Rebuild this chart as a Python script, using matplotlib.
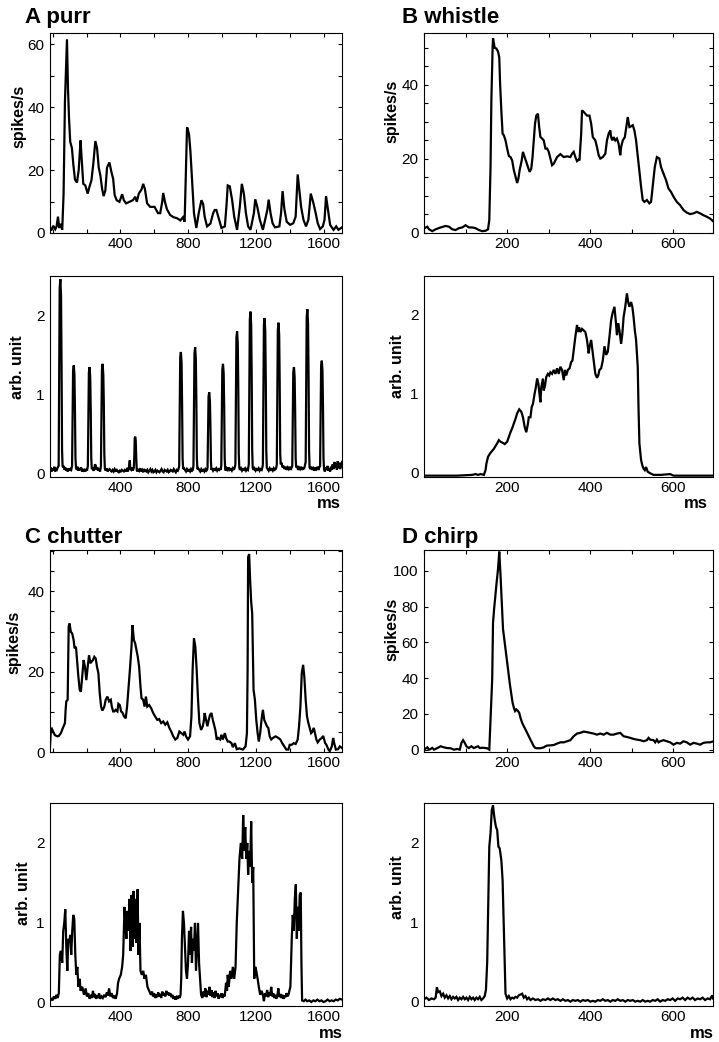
import matplotlib
matplotlib.use("Agg")
import matplotlib.pyplot as plt
from matplotlib.ticker import FixedLocator, MultipleLocator, NullLocator

plt.rcParams['font.family'] = ['Liberation Sans', 'DejaVu Sans']

# ---- data: (ms, value) ----
purr_rate = [(-15, 1.0), (-6, 1.0), (4, 2.3), (16, 1.2), (24, 2.1), (32, 5.2), (39, 1.6), (47, 2.9), (57, 1.0),
             (65, 12.5), (73, 41.7), (85, 61.5), (91, 45.8), (97, 36.5), (104, 29.0), (114, 27.0), (122, 22.0),
             (132, 17.0), (144, 16.0), (154, 20.0), (160, 25.0), (165, 29.4), (171, 24.0), (181, 15.6), (193, 15.1),
             (207, 12.5), (217, 14.6), (229, 16.7), (240, 21.9), (252, 29.2), (262, 27.0), (272, 20.8), (282, 18.2),
             (292, 14.0), (301, 11.7), (311, 13.5), (321, 20.8), (335, 22.4), (347, 19.3), (357, 17.2), (366, 12.0),
             (378, 10.4), (394, 9.9), (410, 12.3), (420, 10.4), (433, 9.4), (453, 9.9), (473, 10.4), (487, 11.5),
             (496, 9.9), (508, 12.5), (524, 13.8), (534, 15.6), (544, 14.0), (557, 9.4), (575, 8.3), (601, 8.3),
             (621, 6.3), (634, 6.3), (646, 9.9), (652, 12.7), (662, 9.9), (674, 7.5), (693, 5.7), (713, 5.0),
             (733, 4.7), (753, 4.0), (768, 5.0), (778, 3.6), (792, 33.3), (794, 33.5), (804, 31.3), (812, 26.0),
             (823, 15.6), (833, 6.3), (847, 1.6), (861, 6.3), (877, 10.4), (887, 9.2), (896, 5.2), (910, 2.1),
             (930, 3.0), (946, 6.3), (955, 7.3), (965, 7.3), (981, 4.2), (995, 1.6), (1015, 2.1), (1024, 8.3),
             (1032, 15.1), (1044, 14.8), (1058, 10.4), (1070, 5.2), (1087, 1.0), (1103, 8.3), (1115, 15.6),
             (1127, 12.5), (1139, 6.3), (1152, 2.1), (1166, 1.0), (1186, 6.3), (1194, 10.7), (1206, 8.3),
             (1221, 4.2), (1239, 1.0), (1265, 7.3), (1273, 10.6), (1284, 6.3), (1296, 3.1), (1310, 1.8),
             (1336, 2.1), (1346, 6.3), (1355, 13.3), (1365, 7.8), (1379, 3.6), (1399, 2.6), (1418, 3.1),
             (1432, 5.2), (1444, 18.6), (1452, 14.6), (1464, 8.3), (1478, 4.2), (1493, 2.1), (1507, 4.2),
             (1521, 12.5), (1537, 9.4), (1550, 6.3), (1562, 3.1), (1576, 1.25), (1592, 2.1), (1602, 4.2),
             (1611, 11.7), (1625, 6.3), (1635, 2.6), (1655, 1.0), (1671, 2.1), (1684, 1.0), (1705, 1.8)]

purr_stim = [(-15, 0.05), (-10, 0.08), (-5, 0.03), (0, 0.07), (5, 0.04), (10, 0.09), (15, 0.03), (20, 0.06),
             (25, 0.05), (30, 0.08),
             (36, 0.10), (39, 1.2), (42, 2.35), (46, 2.46), (50, 2.25), (53, 1.4), (56, 0.3), (59, 0.1),
             (63, 0.08), (67, 0.10), (71, 0.05), (75, 0.08), (80, 0.04), (85, 0.06), (90, 0.03), (95, 0.07),
             (100, 0.04), (105, 0.06), (110, 0.05),
             (115, 0.1), (118, 0.7), (121, 1.3), (125, 1.37), (129, 1.25), (132, 0.8), (135, 0.2), (138, 0.08),
             (143, 0.05), (148, 0.09), (153, 0.04), (158, 0.07), (163, 0.05), (168, 0.08), (173, 0.03), (178, 0.06),
             (183, 0.04), (188, 0.05), (193, 0.03), (198, 0.06), (203, 0.04),
             (208, 0.1), (211, 0.7), (214, 1.28), (218, 1.35), (222, 1.22), (225, 0.8), (228, 0.2), (231, 0.07),
             (236, 0.07), (241, 0.04), (246, 0.06), (250, 0.12), (255, 0.10), (260, 0.05), (265, 0.08), (270, 0.04),
             (275, 0.06), (280, 0.03),
             (285, 0.1), (288, 0.7), (291, 1.32), (295, 1.39), (299, 1.25), (302, 0.9), (305, 0.25), (308, 0.07),
             (313, 0.04), (318, 0.07), (324, 0.03), (330, 0.05), (336, 0.06), (342, 0.04), (348, 0.03), (354, 0.05),
             (360, 0.03), (366, 0.06), (372, 0.04), (378, 0.05), (384, 0.03), (390, 0.02), (396, 0.04), (402, 0.03),
             (408, 0.05), (414, 0.04), (420, 0.03), (426, 0.05), (432, 0.04), (438, 0.06), (444, 0.03), (450, 0.08),
             (455, 0.17), (458, 0.06), (463, 0.05), (468, 0.08), (473, 0.04),
             (479, 0.08), (482, 0.25), (484, 0.45), (487, 0.47), (490, 0.42), (493, 0.2), (496, 0.05),
             (500, 0.03), (504, 0.06), (510, 0.04), (516, 0.07), (522, 0.03), (528, 0.05), (534, 0.02), (540, 0.06),
             (546, 0.04), (552, 0.03), (558, 0.05), (564, 0.02), (570, 0.04), (576, 0.06), (582, 0.03), (588, 0.05),
             (594, 0.02), (600, 0.03), (606, 0.05), (612, 0.02), (618, 0.04), (624, 0.03), (630, 0.02), (636, 0.04),
             (642, 0.06), (648, 0.03), (654, 0.02), (660, 0.05), (666, 0.04), (672, 0.03), (678, 0.05), (684, 0.02),
             (690, 0.03), (696, 0.05), (702, 0.04), (708, 0.03), (714, 0.06), (720, 0.04), (726, 0.02), (732, 0.05),
             (738, 0.04), (742, 0.06),
             (746, 0.1), (749, 0.8), (752, 1.47), (756, 1.54), (760, 1.4), (763, 0.9), (766, 0.2), (769, 0.06),
             (774, 0.07), (780, 0.05), (786, 0.03), (792, 0.06), (798, 0.04), (804, 0.05), (810, 0.03), (816, 0.06),
             (822, 0.04), (826, 0.05),
             (830, 0.1), (833, 0.8), (836, 1.52), (840, 1.6), (844, 1.45), (847, 0.95), (850, 0.2), (853, 0.06),
             (858, 0.07), (864, 0.05), (870, 0.03), (876, 0.06), (882, 0.04), (888, 0.05), (894, 0.03), (900, 0.06),
             (906, 0.04), (910, 0.05),
             (913, 0.08), (916, 0.5), (919, 0.98), (923, 1.03), (927, 0.92), (930, 0.6), (933, 0.15), (936, 0.05),
             (940, 0.07), (946, 0.04), (952, 0.06), (958, 0.05), (964, 0.07), (970, 0.04), (976, 0.06), (982, 0.05),
             (986, 0.07), (990, 0.05),
             (994, 0.1), (997, 0.7), (1000, 1.32), (1004, 1.39), (1008, 1.27), (1011, 0.85), (1014, 0.2), (1017, 0.06),
             (1020, 0.04), (1026, 0.07), (1032, 0.05), (1038, 0.08), (1044, 0.05), (1050, 0.06), (1056, 0.04),
             (1062, 0.07), (1068, 0.05), (1073, 0.08),
             (1077, 0.12), (1080, 0.9), (1083, 1.72), (1087, 1.8), (1091, 1.65), (1094, 1.1), (1097, 0.25),
             (1100, 0.08),
             (1104, 0.05), (1110, 0.07), (1116, 0.04), (1122, 0.06), (1128, 0.05), (1134, 0.07), (1140, 0.04),
             (1146, 0.06), (1151, 0.05),
             (1156, 0.12), (1159, 1.0), (1162, 1.95), (1166, 2.05), (1170, 1.88), (1173, 1.25), (1176, 0.3),
             (1179, 0.08),
             (1184, 0.05), (1190, 0.07), (1196, 0.04), (1202, 0.06), (1208, 0.05), (1214, 0.07), (1220, 0.04),
             (1226, 0.06), (1232, 0.05), (1236, 0.08),
             (1239, 0.12), (1242, 1.0), (1245, 1.88), (1249, 1.97), (1253, 1.8), (1256, 1.2), (1259, 0.3),
             (1262, 0.08),
             (1267, 0.06), (1273, 0.04), (1279, 0.07), (1285, 0.05), (1291, 0.06), (1297, 0.04), (1303, 0.07),
             (1309, 0.05), (1314, 0.06), (1318, 0.08),
             (1321, 0.12), (1324, 0.95), (1327, 1.82), (1331, 1.91), (1335, 1.75), (1338, 1.15), (1341, 0.25),
             (1344, 0.12),
             (1349, 0.14), (1355, 0.08), (1361, 0.10), (1367, 0.06), (1373, 0.09), (1379, 0.05), (1385, 0.08),
             (1391, 0.06), (1397, 0.09), (1403, 0.05), (1408, 0.08),
             (1412, 0.1), (1415, 0.7), (1418, 1.28), (1422, 1.35), (1426, 1.22), (1429, 0.8), (1432, 0.2),
             (1435, 0.08),
             (1440, 0.10), (1446, 0.05), (1452, 0.08), (1458, 0.06), (1464, 0.09), (1470, 0.05), (1476, 0.08),
             (1481, 0.06), (1486, 0.10),
             (1491, 0.15), (1494, 1.05), (1497, 1.98), (1501, 2.08), (1505, 1.9), (1508, 1.25), (1511, 0.3),
             (1514, 0.08),
             (1519, 0.06), (1525, 0.09), (1531, 0.05), (1537, 0.07), (1543, 0.04), (1549, 0.08), (1555, 0.06),
             (1561, 0.09), (1566, 0.05), (1571, 0.08),
             (1576, 0.1), (1579, 0.75), (1582, 1.36), (1586, 1.43), (1590, 1.3), (1593, 0.85), (1596, 0.2),
             (1599, 0.06),
             (1604, 0.03), (1610, 0.08), (1615, 0.05), (1620, 0.10), (1625, 0.04), (1630, 0.07), (1635, 0.03),
             (1640, 0.09), (1645, 0.05), (1650, 0.12), (1655, 0.06), (1660, 0.15), (1665, 0.08), (1670, 0.13),
             (1675, 0.05), (1680, 0.16), (1685, 0.07), (1690, 0.14), (1695, 0.06), (1705, 0.15)]

whistle_rate = [(0, 1.2), (4, 1.5), (8, 1.7), (12, 1.0), (20, 0.5), (28, 1.0), (40, 1.5), (52, 1.9), (60, 1.7),
                (68, 1.0), (76, 0.8), (84, 1.3), (92, 1.5), (100, 2.1), (108, 1.5), (116, 1.5), (124, 1.3),
                (132, 0.8), (140, 0.5), (148, 0.6), (154, 1.0), (157, 3.5), (160, 17.8), (162, 35.8), (165, 50.0),
                (166, 52.6), (170, 50.0), (174, 49.8), (178, 49.0), (181, 47.4), (183, 40.3), (186, 33.0),
                (189, 26.8), (192, 26.4), (196, 25.0), (200, 22.8), (204, 20.8), (208, 20.5), (212, 19.6),
                (216, 17.0), (220, 15.2), (224, 13.5), (227, 14.7), (230, 17.0), (235, 19.6), (238, 21.9),
                (242, 20.5), (246, 19.2), (250, 17.8), (254, 16.5), (258, 17.4), (261, 20.5), (264, 25.0),
                (267, 29.5), (270, 31.7), (274, 32.2), (277, 28.6), (280, 25.9), (284, 25.5), (288, 25.0),
                (292, 22.8), (296, 22.8), (300, 21.9), (304, 20.1), (308, 18.3), (312, 18.7), (316, 19.6),
                (320, 20.5), (328, 21.3), (336, 20.5), (344, 20.7), (352, 20.5), (356, 21.4), (360, 21.9),
                (364, 20.5), (368, 19.4), (372, 19.8), (374, 19.8), (378, 26.8), (380, 33.1), (384, 32.7),
                (388, 32.2), (392, 31.7), (398, 31.7), (402, 29.5), (406, 25.9), (412, 25.0), (416, 23.2),
                (420, 21.0), (424, 20.1), (430, 20.5), (436, 21.4), (440, 25.0), (444, 26.8), (448, 27.7),
                (450, 25.9), (453, 25.0), (456, 25.9), (460, 25.0), (464, 25.5), (468, 24.1), (472, 21.0),
                (474, 23.2), (478, 25.0), (483, 25.9), (486, 28.2), (490, 31.3), (494, 28.6), (498, 28.8),
                (502, 29.1), (506, 27.7), (510, 25.0), (516, 18.7), (522, 12.5), (526, 8.9), (530, 8.4),
                (536, 8.9), (542, 8.0), (546, 8.4), (550, 12.5), (555, 17.8), (560, 20.5), (566, 20.1),
                (570, 17.8), (576, 16.0), (582, 14.3), (588, 12.0), (594, 11.1), (600, 9.8), (608, 8.4),
                (616, 7.5), (624, 6.2), (632, 5.5), (640, 5.1), (648, 5.3), (656, 5.7), (664, 5.3), (672, 4.8),
                (680, 4.4), (688, 3.9), (695, 3.2)]

whistle_stim = [(0, -0.04), (40, -0.04), (80, -0.04), (116, -0.03), (124, -0.02), (130, -0.03), (136, -0.02),
                (144, -0.03), (148, 0.03), (150, 0.11), (154, 0.2), (160, 0.25), (168, 0.3), (176, 0.37),
                (180, 0.41), (184, 0.39), (188, 0.38), (194, 0.36), (200, 0.39), (204, 0.45), (208, 0.51),
                (212, 0.56), (216, 0.62), (220, 0.68), (224, 0.75), (229, 0.8), (234, 0.77), (238, 0.7),
                (242, 0.58), (246, 0.51), (250, 0.62), (252, 0.7), (256, 0.7), (259, 0.83), (262, 0.87),
                (266, 1.0), (269, 1.08), (272, 1.19), (275, 1.13), (278, 0.98), (280, 0.89), (282, 1.08),
                (286, 1.19), (288, 1.04), (291, 1.1), (294, 1.21), (298, 1.25), (301, 1.23), (304, 1.27),
                (308, 1.25), (312, 1.3), (316, 1.25), (320, 1.32), (324, 1.25), (328, 1.34), (332, 1.3),
                (336, 1.17), (339, 1.3), (342, 1.23), (346, 1.3), (350, 1.32), (354, 1.4), (357, 1.42),
                (360, 1.55), (364, 1.72), (368, 1.87), (370, 1.78), (373, 1.84), (376, 1.78), (380, 1.82),
                (384, 1.8), (388, 1.78), (392, 1.68), (396, 1.51), (398, 1.59), (402, 1.68), (405, 1.55),
                (408, 1.42), (412, 1.25), (416, 1.2), (419, 1.23), (422, 1.3), (426, 1.32), (430, 1.42),
                (434, 1.6), (438, 1.49), (442, 1.53), (446, 1.72), (450, 1.93), (453, 2.01), (458, 2.1),
                (461, 1.93), (464, 1.74), (467, 1.89), (470, 1.8), (474, 1.63), (477, 1.76), (480, 1.97),
                (484, 2.1), (488, 2.27), (491, 2.16), (494, 2.1), (498, 2.16), (501, 2.1), (504, 1.97),
                (507, 1.8), (510, 1.68), (514, 1.34), (516, 0.79), (518, 0.37), (522, 0.16), (525, 0.09),
                (528, 0.05), (531, 0.03), (534, 0.07), (538, 0.01), (544, -0.01), (552, -0.03), (570, -0.03),
                (592, -0.02), (600, -0.04), (695, -0.04)]

chutter_rate = [(-16, 0.5), (-10, 5.5), (-4, 5.8), (4, 5.0), (14, 4.2), (28, 3.9), (37, 4.0), (49, 4.7),
                (61, 6.0), (73, 7.2), (77, 10.5), (81, 12.6), (89, 13.0), (95, 31.2), (100, 32.0), (108, 29.9),
                (116, 29.5), (124, 27.9), (130, 25.8), (138, 26.2), (144, 22.9), (152, 18.8), (160, 15.5),
                (167, 15.0), (175, 18.8), (183, 22.9), (191, 21.2), (199, 17.9), (207, 21.2), (215, 24.1),
                (223, 22.1), (230, 22.5), (238, 22.9), (246, 23.7), (254, 23.3), (262, 21.2), (270, 19.6),
                (278, 14.6), (286, 11.3), (294, 10.3), (305, 11.3), (313, 13.0), (323, 13.8), (333, 12.6),
                (343, 13.0), (349, 11.3), (357, 10.1), (364, 10.1), (372, 10.5), (382, 10.1), (388, 12.0),
                (396, 11.7), (404, 10.1), (412, 9.8), (422, 8.8), (431, 8.4), (439, 11.3), (445, 14.6),
                (451, 17.9), (457, 21.2), (465, 26.2), (471, 31.6), (479, 27.9), (487, 27.0), (494, 25.4),
                (502, 23.7), (510, 21.2), (518, 16.3), (524, 13.4), (534, 13.0), (542, 11.3), (550, 13.8),
                (558, 11.3), (569, 11.7), (581, 10.9), (593, 9.7), (605, 8.8), (617, 8.0), (628, 8.2),
                (640, 7.2), (652, 7.6), (664, 6.8), (676, 7.4), (688, 6.0), (699, 5.1), (711, 3.9), (723, 3.1),
                (735, 3.5), (747, 5.1), (758, 4.7), (770, 4.3), (778, 5.1), (786, 3.9), (798, 3.1), (810, 3.9),
                (818, 8.8), (825, 20.4), (833, 28.3), (841, 26.2), (849, 20.4), (857, 13.0), (865, 7.2),
                (875, 5.5), (885, 6.4), (892, 8.0), (896, 9.7), (904, 8.0), (912, 6.4), (920, 8.0), (928, 9.3),
                (936, 9.7), (944, 8.0), (951, 6.8), (959, 5.5), (967, 3.1), (975, 3.5), (987, 3.1), (995, 4.3),
                (1003, 3.1), (1015, 4.7), (1022, 3.5), (1032, 2.6), (1042, 2.6), (1054, 2.2), (1062, 1.2),
                (1074, 2.2), (1085, 0.7), (1101, 0.9), (1121, 0.6), (1137, 1.4), (1145, 4.7), (1149, 20.4),
                (1152, 48.5), (1158, 49.3), (1164, 42.7), (1170, 37.4), (1176, 34.5), (1184, 15.5), (1192, 13.0),
                (1200, 8.0), (1208, 4.7), (1215, 2.6), (1223, 4.7), (1231, 8.0), (1239, 10.5), (1247, 8.0),
                (1255, 7.2), (1263, 6.4), (1271, 6.0), (1279, 3.9), (1288, 3.1), (1298, 3.5), (1314, 3.9),
                (1330, 3.5), (1342, 3.1), (1353, 2.2), (1365, 1.4), (1377, 0.6), (1389, 0.6), (1397, 1.8),
                (1409, 1.8), (1420, 2.2), (1432, 2.0), (1444, 3.1), (1452, 6.4), (1460, 11.3), (1468, 19.6),
                (1476, 21.7), (1483, 18.8), (1491, 13.0), (1499, 8.8), (1507, 7.2), (1515, 6.0), (1523, 4.7),
                (1531, 5.1), (1539, 6.0), (1546, 4.7), (1554, 3.1), (1562, 2.4), (1574, 3.1), (1586, 3.5),
                (1594, 4.0), (1606, 2.2), (1613, 1.8), (1625, 0.6), (1633, 0.2), (1645, 1.4), (1653, 3.5),
                (1659, 2.2), (1669, 0.6), (1682, 0.7), (1692, 1.4), (1705, 1.0)]

chutter_stim = [(-15, 0.02), (-8, 0.06), (0, 0.03), (8, 0.08), (16, 0.05), (24, 0.10), (30, 0.06), (37, 0.12),
                (43, 0.6), (49, 0.65), (57, 0.5), (63, 0.9), (69, 1.0), (75, 1.17), (81, 0.7), (87, 0.4),
                (93, 0.8), (99, 0.75), (104, 0.85), (110, 0.6), (116, 0.9), (122, 1.1), (128, 1.05), (134, 0.6),
                (140, 0.35), (146, 0.45), (152, 0.2), (160, 0.3), (165, 0.15), (175, 0.2), (185, 0.1), (195, 0.18),
                (202, 0.08), (210, 0.12), (218, 0.05), (226, 0.10), (232, 0.06), (238, 0.15), (244, 0.07),
                (250, 0.11), (256, 0.05), (262, 0.09), (268, 0.06), (274, 0.12), (280, 0.05), (288, 0.08),
                (296, 0.06), (304, 0.10), (312, 0.07), (320, 0.13), (326, 0.09), (333, 0.18), (340, 0.08),
                (348, 0.12), (356, 0.06), (364, 0.09), (372, 0.05), (380, 0.12), (386, 0.25), (392, 0.3),
                (402, 0.35), (410, 0.45), (416, 0.6), (424, 1.2), (429, 1.0), (435, 0.8), (441, 1.15), (447, 0.9),
                (453, 1.3), (459, 0.65), (465, 1.35), (471, 0.7), (477, 1.4), (483, 0.8), (489, 1.3), (495, 0.75),
                (501, 1.42), (506, 0.6), (512, 1.0), (518, 0.4), (526, 0.35), (534, 0.4), (542, 0.3), (550, 0.35),
                (559, 0.2), (569, 0.15), (579, 0.1), (586, 0.14), (592, 0.08), (598, 0.12), (604, 0.06),
                (610, 0.10), (616, 0.07), (622, 0.13), (628, 0.08), (634, 0.11), (640, 0.06), (646, 0.14),
                (652, 0.09), (658, 0.12), (664, 0.08), (670, 0.15), (676, 0.10), (682, 0.13), (688, 0.09),
                (694, 0.12), (700, 0.07), (706, 0.10), (712, 0.05), (718, 0.08), (724, 0.04), (730, 0.07),
                (736, 0.05), (742, 0.09), (748, 0.06), (754, 0.10), (758, 0.3), (762, 0.8), (768, 1.15),
                (774, 1.0), (780, 0.7), (786, 0.4), (792, 0.3), (798, 0.5), (804, 0.9), (810, 0.6), (816, 0.95),
                (821, 0.5), (827, 0.8), (833, 0.65), (839, 1.0), (845, 0.4), (851, 0.7), (857, 1.0), (863, 0.5),
                (869, 0.3), (875, 0.1), (882, 0.06), (888, 0.14), (894, 0.08), (900, 0.18), (906, 0.07),
                (912, 0.15), (918, 0.10), (924, 0.20), (930, 0.09), (936, 0.16), (942, 0.07), (948, 0.13),
                (954, 0.06), (960, 0.15), (966, 0.08), (972, 0.12), (978, 0.05), (984, 0.10), (990, 0.07),
                (996, 0.12), (1002, 0.06), (1008, 0.11), (1014, 0.08), (1022, 0.25), (1028, 0.15), (1032, 0.35),
                (1038, 0.2), (1046, 0.4), (1054, 0.3), (1062, 0.45), (1070, 0.3), (1078, 0.45), (1085, 1.0),
                (1093, 1.4), (1101, 1.8), (1109, 2.0), (1117, 1.8), (1123, 2.35), (1129, 1.9), (1135, 2.2),
                (1141, 1.8), (1147, 2.0), (1152, 1.6), (1158, 1.9), (1164, 1.7), (1170, 2.27), (1176, 1.5),
                (1182, 1.7), (1188, 0.3), (1194, 0.45), (1200, 0.4), (1208, 0.3), (1215, 0.2), (1223, 0.1),
                (1231, 0.15), (1239, 0.1), (1245, 0.02), (1252, 0.12), (1258, 0.08), (1264, 0.16), (1270, 0.07),
                (1276, 0.13), (1282, 0.09), (1288, 0.2), (1294, 0.08), (1300, 0.12), (1306, 0.06), (1312, 0.10),
                (1318, 0.05), (1324, 0.09), (1330, 0.18), (1336, 0.07), (1342, 0.11), (1348, 0.06), (1354, 0.10),
                (1360, 0.05), (1366, 0.09), (1372, 0.07), (1378, 0.12), (1384, 0.08), (1390, 0.10), (1395, 0.15),
                (1401, 0.2), (1409, 0.8), (1415, 1.1), (1421, 0.9), (1427, 1.3), (1433, 1.48), (1439, 0.8),
                (1444, 1.2), (1450, 0.9), (1456, 1.35), (1462, 1.38), (1466, 0.5), (1470, 0.03), (1480, 0.02),
                (1490, 0.04), (1500, 0.02), (1512, 0.03), (1524, 0.01), (1536, 0.03), (1548, 0.02), (1560, 0.04),
                (1572, 0.02), (1584, 0.03), (1596, 0.01), (1608, 0.02), (1620, 0.04), (1632, 0.02), (1644, 0.03),
                (1656, 0.02), (1668, 0.04), (1680, 0.03), (1692, 0.05), (1705, 0.04)]

chirp_rate = [(0, 0.0), (8, 1.3), (12, 0.0), (16, 0.4), (20, 1.0), (24, 0.0), (32, 0.9), (40, 1.9), (48, 1.3),
              (56, 0.9), (64, 0.8), (72, 0.0), (80, 0.4), (86, 0.0), (90, 3.8), (94, 5.3), (98, 3.8), (102, 1.9),
              (108, 0.9), (114, 1.9), (120, 0.9), (126, 1.5), (130, 1.9), (134, 0.9), (141, 1.1), (152, 0.8),
              (157, 0.0), (160, 16.9), (164, 39.4), (166, 71.0), (169, 79.7), (171, 84.4), (174, 91.9),
              (178, 101.0), (181, 110.7), (184, 97.6), (187, 82.6), (190, 67.5), (194, 60.0), (197, 54.4),
              (200, 48.8), (203, 43.2), (206, 37.5), (210, 31.0), (213, 26.3), (216, 23.5), (219, 21.6),
              (222, 22.5), (226, 21.6), (229, 20.6), (232, 17.8), (236, 15.0), (240, 13.1), (244, 11.3),
              (248, 9.4), (252, 7.5), (256, 5.6), (260, 3.8), (264, 1.9), (268, 0.9), (272, 0.8), (280, 0.8),
              (288, 1.3), (292, 1.9), (296, 2.3), (304, 2.4), (312, 2.6), (320, 3.4), (328, 4.1), (336, 4.1),
              (344, 4.7), (352, 5.3), (360, 7.5), (368, 9.0), (376, 9.4), (384, 10.1), (392, 9.8), (400, 9.4),
              (408, 9.0), (416, 8.4), (424, 9.0), (432, 8.4), (440, 9.4), (448, 8.4), (456, 8.4), (464, 9.0),
              (472, 9.4), (480, 7.5), (488, 7.1), (496, 6.6), (504, 6.0), (512, 5.6), (520, 5.3), (528, 4.7),
              (536, 5.3), (540, 6.6), (544, 5.6), (552, 5.3), (556, 4.1), (560, 5.6), (564, 4.1), (568, 4.7),
              (576, 5.3), (584, 4.7), (592, 4.1), (600, 2.8), (608, 3.8), (616, 3.4), (624, 4.7), (632, 4.1),
              (640, 2.8), (648, 3.8), (656, 3.4), (664, 2.8), (672, 3.8), (680, 4.1), (688, 4.1), (695, 4.6)]

chirp_stim = [(0, 0.03), (6, 0.05), (12, 0.02), (18, 0.04), (24, 0.03), (28, 0.05), (31, 0.18), (34, 0.12),
              (38, 0.13), (42, 0.07), (46, 0.10), (50, 0.05), (54, 0.08), (58, 0.04), (62, 0.07), (66, 0.03),
              (70, 0.06), (74, 0.04), (78, 0.06), (82, 0.02), (86, 0.05), (90, 0.03), (94, 0.06), (98, 0.03),
              (102, 0.05), (106, 0.02), (110, 0.06), (114, 0.03), (118, 0.05), (122, 0.02), (126, 0.05),
              (130, 0.03), (134, 0.06), (138, 0.02), (142, 0.04), (146, 0.07), (149, 0.15), (152, 0.5),
              (154, 1.1), (157, 1.95), (160, 2.12), (163, 2.41), (166, 2.47), (168, 2.37), (170, 2.29),
              (173, 2.2), (176, 2.16), (179, 1.95), (182, 1.93), (186, 1.78), (189, 1.53), (191, 1.11),
              (194, 0.44), (196, 0.1), (200, 0.04), (204, 0.07), (208, 0.03), (212, 0.05), (216, 0.04),
              (220, 0.06), (224, 0.05), (228, 0.08), (232, 0.09), (236, 0.1), (240, 0.05), (244, 0.07),
              (248, 0.03), (252, 0.05), (256, 0.02), (262, 0.04), (268, 0.02), (274, 0.03), (280, 0.01),
              (286, 0.03), (292, 0.02), (298, 0.04), (304, 0.02), (310, 0.04), (316, 0.02), (322, 0.03),
              (328, 0.01), (334, 0.03), (340, 0.01), (346, 0.02), (352, 0.0), (358, 0.02), (364, 0.01),
              (370, 0.02), (376, 0.0), (382, 0.02), (388, 0.01), (394, 0.02), (400, 0.0), (406, 0.01),
              (412, 0.0), (418, 0.02), (424, 0.01), (430, 0.03), (436, 0.01), (442, 0.02), (448, 0.0),
              (454, 0.02), (460, 0.01), (466, 0.03), (472, 0.01), (478, 0.02), (484, 0.0), (490, 0.02),
              (496, 0.01), (502, 0.02), (508, 0.0), (514, 0.01), (520, 0.0), (526, 0.02), (532, 0.0),
              (538, 0.01), (544, 0.0), (550, 0.02), (556, 0.01), (562, 0.03), (568, 0.0), (574, 0.02),
              (580, 0.01), (586, 0.03), (592, 0.02), (598, 0.04), (604, 0.01), (610, 0.04), (616, 0.03),
              (622, 0.05), (628, 0.02), (634, 0.05), (640, 0.03), (646, 0.05), (652, 0.02), (658, 0.04),
              (664, 0.03), (670, 0.05), (676, 0.02), (682, 0.04), (688, 0.03), (693, 0.08), (695, 0.04)]

titles = ["A purr", "B whistle", "C chutter", "D chirp"]

W, H = 719, 1042
fig = plt.figure(figsize=(W / 100, H / 100), dpi=100)


def box(l, t, r, b):
    return fig.add_axes([l / W, 1 - b / H, (r - l) / W, (b - t) / H])


def draw(ax, series, xlim, ylim, xmaj, xmin, ymaj, ymin, ticks=True):
    xs = [p[0] for p in series]
    ys = [p[1] for p in series]
    ax.plot(xs, ys, color='black', lw=1.6, solid_joinstyle='miter')
    ax.set_xlim(*xlim)
    ax.set_ylim(*ylim)
    ax.xaxis.set_major_locator(FixedLocator(xmaj))
    ax.yaxis.set_major_locator(FixedLocator(ymaj))
    if ticks:
        ax.xaxis.set_minor_locator(MultipleLocator(xmin))
        ax.yaxis.set_minor_locator(MultipleLocator(ymin) if ymin else NullLocator())
        ax.tick_params(which='both', direction='in', top=True, right=True, length=3, width=0.8)
    else:
        ax.tick_params(which='both', length=0)
    ax.tick_params(axis='x', labelsize=11, pad=3)
    ax.tick_params(axis='y', labelsize=11, pad=4)
    for s in ax.spines.values():
        s.set_linewidth(0.8)


def ylabel(ax, text, px, py, l, t, r, b):
    ax.text((px - l) / (r - l), (b - py) / (b - t), text, transform=ax.transAxes, rotation=90,
            ha='center', va='center', fontsize=11.5, fontweight='bold')


def mslabel(ax, px, py, l, t, r, b):
    ax.text((px - l) / (r - l), -(py - b) / (b - t), 'ms', transform=ax.transAxes,
            ha='right', va='baseline', fontsize=12, fontweight='bold')


LX = (50, 342)
RX = (424, 713)
rows = [(33, 233), (276, 477), (550, 752), (803, 1006)]
lx = (-15, 1705)
rx = (0, 695)
lmaj = [400, 800, 1200, 1600]
rmaj = [200, 400, 600]

# A purr
l, r = LX
t, b = rows[0]
ax = box(l, t, r, b)
draw(ax, purr_rate, lx, (0, 63.5), lmaj, 200, [0, 20, 40, 60], 10)
ylabel(ax, 'spikes/s', 19, 116, l, t, r, b)
t, b = rows[1]
ax = box(l, t, r, b)
draw(ax, purr_stim, lx, (-0.04, 2.5), lmaj, 200, [0, 1, 2], None, ticks=False)
ylabel(ax, 'arb. unit', 18, 367, l, t, r, b)
mslabel(ax, 341, 508, l, t, r, b)

# B whistle
l, r = RX
t, b = rows[0]
ax = box(l, t, r, b)
draw(ax, whistle_rate, rx, (0, 54), rmaj, 100, [0, 20, 40], 5)
ylabel(ax, 'spikes/s', 392, 111, l, t, r, b)
t, b = rows[1]
ax = box(l, t, r, b)
draw(ax, whistle_stim, rx, (-0.057, 2.49), rmaj, 100, [0, 1, 2], None, ticks=False)
ylabel(ax, 'arb. unit', 398, 366, l, t, r, b)
mslabel(ax, 708, 508, l, t, r, b)

# C chutter
l, r = LX
t, b = rows[2]
ax = box(l, t, r, b)
draw(ax, chutter_rate, lx, (0, 50.3), lmaj, 200, [0, 20, 40], 5)
ylabel(ax, 'spikes/s', 14, 642, l, t, r, b)
t, b = rows[3]
ax = box(l, t, r, b)
draw(ax, chutter_stim, lx, (-0.04, 2.5), lmaj, 200, [0, 1, 2], None, ticks=False)
ylabel(ax, 'arb. unit', 24, 893, l, t, r, b)
mslabel(ax, 343, 1038, l, t, r, b)

# D chirp
l, r = RX
t, b = rows[2]
ax = box(l, t, r, b)
draw(ax, chirp_rate, rx, (-1.3, 111.6), rmaj, 100, [0, 20, 40, 60, 80, 100], None)
ylabel(ax, 'spikes/s', 392, 629, l, t, r, b)
t, b = rows[3]
ax = box(l, t, r, b)
draw(ax, chirp_stim, rx, (-0.055, 2.5), rmaj, 100, [0, 1, 2], None, ticks=False)
ylabel(ax, 'arb. unit', 398, 887, l, t, r, b)
mslabel(ax, 714, 1038, l, t, r, b)

for text, (px, py) in zip(titles, [(25, 22.7), (402, 22.7), (25, 542.7), (402, 542.7)]):
    fig.text(px / W, 1 - py / H, text, fontsize=16, fontweight='bold', ha='left', va='baseline')

fig.savefig('out.png', dpi=100)
